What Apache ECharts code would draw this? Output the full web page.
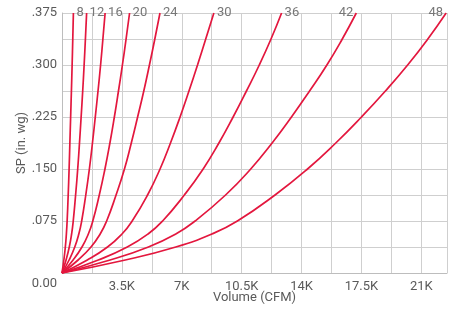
<!DOCTYPE html>
<html>
<head>
<meta charset="utf-8">
<script src="https://cdn.jsdelivr.net/npm/echarts@6/dist/echarts.min.js"></script>
<style>
    html, body { margin: 0; padding: 0; background: #fff; }
    #chart { width: 450px; height: 310px; }
</style>
</head>
<body>
<div id="chart"></div>
<script>
"use strict";

// static pressure levels (in. wg) at which each curve was read
var spLevels = [0, 0.01875, 0.0375, 0.05625, 0.075, 0.1125, 0.15, 0.1875, 0.225, 0.2625, 0.3, 0.3375, 0.375];

// duct sizes shown on top of each curve
var ductSizes = ["8", "12", "16", "20", "24", "30", "36", "42", "48"];

// volume (CFM) of each curve at the levels above
var cfm8  = [0, 108, 195, 256, 300, 362, 415, 460, 505, 550, 592, 630, 666];
var cfm12 = [0, 237, 426, 562, 657, 795, 918, 1022, 1118, 1210, 1293, 1368, 1439];
var cfm16 = [0, 415, 746, 983, 1150, 1390, 1600, 1780, 1945, 2105, 2255, 2390, 2520];
var cfm20 = [0, 650, 1168, 1539, 1800, 2180, 2510, 2800, 3060, 3300, 3530, 3745, 3949];
var cfm24 = [0, 942, 1694, 2231, 2610, 3160, 3650, 4050, 4420, 4780, 5110, 5425, 5726];
var cfm30 = [0, 1480, 2660, 3505, 4100, 5000, 5730, 6340, 6900, 7420, 7920, 8400, 8876];
var cfm36 = [0, 2120, 3815, 5030, 5880, 7150, 8250, 9170, 10000, 10780, 11530, 12215, 12833];
var cfm42 = [0, 2810, 5050, 6650, 7780, 9560, 11030, 12280, 13410, 14470, 15480, 16380, 17200];
var cfm48 = [0, 3700, 6650, 8760, 10250, 12450, 14350, 16000, 17500, 18900, 20200, 21380, 22450];

var curves = [cfm8, cfm12, cfm16, cfm20, cfm24, cfm30, cfm36, cfm42, cfm48];

var xMax = 22500;
var xStep = 1750;
var yMax = 0.375;
var yStep = 0.0375;

var red = "#e3173e";
var textColor = "#5a5a5a";
var gridColor = "#cfcfcf";

function buildSeries(cfm, idx) {
    var last = cfm.length - 1;
    // the two widest curves run into the right side, their label sits on the left
    var onLeft = idx >= 7;
    var data = cfm.map(function (q, i) {
        var item = { value: [q, spLevels[i]] };
        if (i === last) {
            item.label = {
                show: true,
                formatter: ductSizes[idx],
                position: onLeft ? "left" : "right",
                distance: 3,
                offset: [0, 8],
                color: "#777",
                fontSize: 13,
                fontFamily: "Roboto"
            };
        }
        return item;
    });
    return {
        name: ductSizes[idx],
        type: "line",
        data: data,
        smooth: 0.5,
        showSymbol: true,
        symbol: "circle",
        symbolSize: 0,
        lineStyle: { color: red, width: 1.7 },
        itemStyle: { color: red },
        label: { show: false },
        labelLayout: { hideOverlap: false },
        clip: true
    };
}

var chart = echarts.init(document.getElementById("chart"), null, { renderer: "canvas" });

chart.setOption({
    animation: false,
    textStyle: { fontFamily: "Roboto" },
    grid: { left: 62, right: 0, top: 13, bottom: 37 },
    xAxis: {
        type: "value",
        min: 0,
        max: xMax,
        interval: xStep,
        name: "Volume (CFM)",
        nameLocation: "middle",
        nameGap: 18,
        nameMoveOverlap: false,
        nameTextStyle: { color: textColor, fontSize: 13, fontFamily: "Roboto" },
        axisLine: { show: true, lineStyle: { color: "#bdbdbd", width: 1 } },
        axisTick: { show: false },
        splitLine: { show: true, lineStyle: { color: gridColor, width: 1 } },
        axisLabel: {
            color: textColor,
            fontSize: 13,
            margin: 7,
            formatter: function (v) {
                var k = Math.round(v / xStep);
                if (v === 0 || k % 2 !== 0 || v >= xMax) return "";
                return (v / 1000) + "K";
            }
        }
    },
    yAxis: {
        type: "value",
        min: 0,
        max: yMax,
        interval: yStep,
        name: "SP (in. wg)",
        nameLocation: "middle",
        nameGap: 34,
        nameMoveOverlap: false,
        nameTextStyle: { color: textColor, fontSize: 13, fontFamily: "Roboto" },
        axisLine: { show: true, lineStyle: { color: "#bdbdbd", width: 1 } },
        axisTick: { show: false },
        splitLine: { show: true, lineStyle: { color: gridColor, width: 1 } },
        axisLabel: {
            color: textColor,
            fontSize: 13,
            margin: 5,
            formatter: function (v) {
                var k = Math.round(v / yStep);
                if (k % 2 !== 0) return "";
                if (k === 0) return "{z|0.00}";
                return (k * yStep).toFixed(3).replace(/^0/, "");
            },
            rich: {
                z: { color: textColor, fontSize: 13, padding: [21, 0, 0, 0] }
            }
        }
    },
    series: curves.map(buildSeries)
});
</script>
</body>
</html>
